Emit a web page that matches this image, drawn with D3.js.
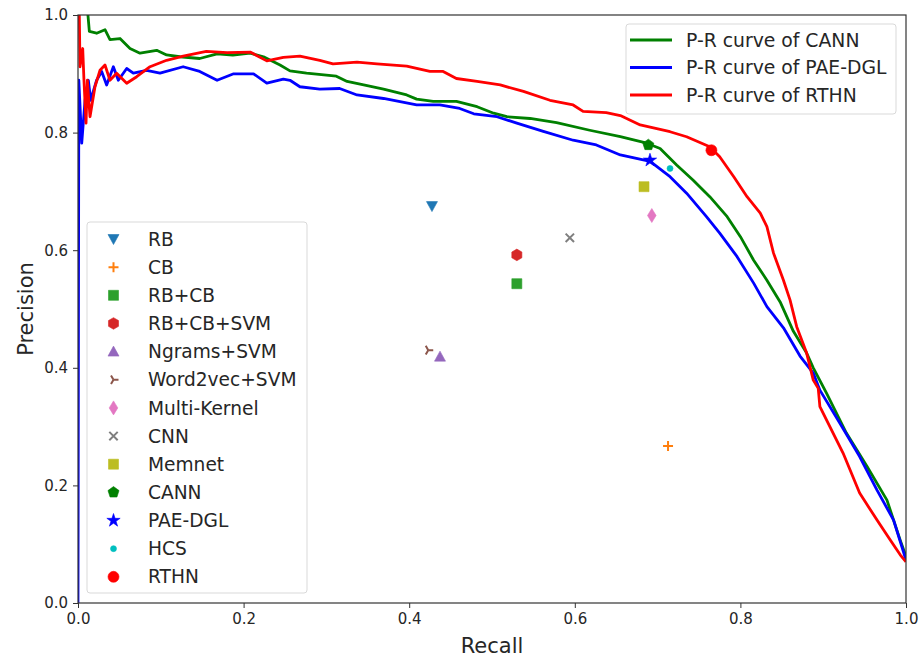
<!DOCTYPE html>
<html>
<head>
<meta charset="utf-8">
<script src="https://cdn.jsdelivr.net/npm/d3@7"></script>
<style>
  body { margin: 0; background: #fff; }
  text { font-family: "DejaVu Sans", sans-serif; fill: #262626; }
</style>
</head>
<body>
<div id="chart"></div>
<script>
// P-R curves, [recall, precision]
const cannCurve = [
  [0.012,1.0],[0.0137,0.972],[0.0225,0.969],[0.0326,0.975],[0.0386,0.958],[0.0507,0.96],
  [0.0628,0.943],[0.0749,0.935],[0.095,0.94],[0.107,0.932],[0.123,0.929],[0.147,0.926],
  [0.168,0.934],[0.187,0.932],[0.208,0.935],[0.224,0.929],[0.244,0.915],[0.256,0.905],
  [0.276,0.901],[0.312,0.896],[0.325,0.887],[0.345,0.881],[0.369,0.874],[0.397,0.864],
  [0.409,0.857],[0.429,0.853],[0.457,0.853],[0.482,0.844],[0.502,0.833],[0.518,0.827],
  [0.546,0.824],[0.578,0.817],[0.618,0.804],[0.655,0.793],[0.687,0.782],[0.703,0.773],
  [0.723,0.745],[0.743,0.719],[0.763,0.691],[0.784,0.657],[0.80,0.623],[0.816,0.583],
  [0.832,0.549],[0.848,0.512],[0.864,0.462],[0.880,0.425],[0.888,0.400],[0.904,0.357],
  [0.928,0.289],[0.953,0.232],[0.977,0.175],[0.993,0.107],[1.0,0.079]
];
const paeCurve = [
  [0,0],[0.001,0.889],[0.0045,0.782],[0.0085,0.855],[0.0125,0.889],[0.0153,0.855],
  [0.0225,0.889],[0.0286,0.904],[0.0346,0.881],[0.0427,0.912],[0.0487,0.889],[0.0588,0.909],
  [0.0668,0.901],[0.0829,0.906],[0.099,0.901],[0.127,0.912],[0.147,0.904],[0.168,0.889],
  [0.188,0.900],[0.212,0.900],[0.228,0.884],[0.248,0.891],[0.256,0.889],[0.268,0.878],
  [0.292,0.874],[0.316,0.875],[0.337,0.864],[0.369,0.858],[0.409,0.847],[0.437,0.847],
  [0.461,0.841],[0.478,0.832],[0.506,0.827],[0.530,0.816],[0.562,0.802],[0.598,0.787],
  [0.626,0.779],[0.655,0.762],[0.691,0.751],[0.715,0.725],[0.735,0.697],[0.759,0.657],
  [0.775,0.629],[0.796,0.589],[0.816,0.544],[0.832,0.504],[0.852,0.468],[0.872,0.42],
  [0.888,0.391],[0.896,0.362],[0.920,0.306],[0.944,0.249],[0.965,0.192],[0.985,0.141],
  [1.0,0.073]
];
const rthnCurve = [
  [0.0016,1.0],[0.0024,0.912],[0.0057,0.943],[0.0072,0.889],[0.0097,0.816],[0.0113,0.889],
  [0.0145,0.827],[0.0205,0.878],[0.0266,0.906],[0.0326,0.915],[0.0386,0.889],[0.0467,0.901],
  [0.0588,0.884],[0.0709,0.895],[0.087,0.912],[0.107,0.923],[0.127,0.930],[0.155,0.938],
  [0.18,0.936],[0.208,0.937],[0.228,0.922],[0.248,0.928],[0.268,0.930],[0.292,0.923],
  [0.308,0.917],[0.337,0.920],[0.361,0.917],[0.397,0.913],[0.425,0.904],[0.441,0.904],
  [0.457,0.892],[0.482,0.887],[0.510,0.881],[0.538,0.870],[0.570,0.855],[0.598,0.847],
  [0.610,0.836],[0.638,0.834],[0.655,0.829],[0.679,0.813],[0.715,0.8015],[0.735,0.793],
  [0.763,0.776],[0.775,0.759],[0.792,0.725],[0.808,0.691],[0.824,0.663],[0.832,0.640],
  [0.840,0.595],[0.852,0.549],[0.860,0.515],[0.868,0.470],[0.880,0.425],[0.888,0.379],
  [0.894,0.365],[0.896,0.334],[0.924,0.255],[0.944,0.187],[0.965,0.141],[0.981,0.107],
  [0.993,0.082],[1.0,0.070]
];

const curveNames = ["P-R curve of CANN", "P-R curve of PAE-DGL", "P-R curve of RTHN"];
const curveColors = ["#008000", "#0000ff", "#ff0000"];

// single-point methods
const methods = ["RB","CB","RB+CB","RB+CB+SVM","Ngrams+SVM","Word2vec+SVM","Multi-Kernel",
                 "CNN","Memnet","CANN","PAE-DGL","HCS","RTHN"];
const recallVals    = [0.4275,0.7126,0.530,0.530,0.4372,0.423,0.693,0.594,0.6836,0.6888,0.6908,0.715,0.765];
const precisionVals = [0.675,0.267,0.543,0.592,0.419,0.430,0.659,0.621,0.708,0.779,0.753,0.739,0.770];
const markerTypes = ["v","+","s","h","^","4","d","x","s","p","*",".","o"];
const markerColors = ["#1f77b4","#ff7f0e","#2ca02c","#d62728","#9467bd","#8c564b","#e377c2",
                      "#7f7f7f","#bcbd22","#008000","#0000ff","#00bfbf","#ff0000"];

const xTicks = [0.0,0.2,0.4,0.6,0.8,1.0];
const yTicks = [0.0,0.2,0.4,0.6,0.8,1.0];

const width = 919, height = 658;
const margin = {left: 78, right: 13, top: 15, bottom: 55};

const svg = d3.select("#chart").append("svg")
  .attr("width", width)
  .attr("height", height);

const x = d3.scaleLinear().domain([0, 1]).range([margin.left, width - margin.right]);
const y = d3.scaleLinear().domain([0, 1]).range([height - margin.bottom, margin.top]);

svg.append("clipPath").attr("id", "clip")
  .append("rect")
  .attr("x", x(0)).attr("y", y(1))
  .attr("width", x(1) - x(0)).attr("height", y(0) - y(1));

// marker shapes, centred on 0,0
function markerPath(t) {
  const p = d3.path();
  const poly = (n, r, rot) => {
    for (let i = 0; i < n; i++) {
      const a = rot + i * 2 * Math.PI / n;
      const px = r * Math.sin(a), py = -r * Math.cos(a);
      if (i === 0) p.moveTo(px, py); else p.lineTo(px, py);
    }
    p.closePath();
  };
  switch (t) {
    case "v": p.moveTo(-5.5,-4.5); p.lineTo(5.5,-4.5); p.lineTo(0,5.5); p.closePath(); break;
    case "^": p.moveTo(-5.5,4.5); p.lineTo(5.5,4.5); p.lineTo(0,-5.5); p.closePath(); break;
    case "s": p.rect(-5,-5,10,10); break;
    case "h": poly(6, 5.8, 0); break;
    case "p": poly(5, 5.8, 0); break;
    case "d": p.moveTo(0,-7); p.lineTo(4.3,0); p.lineTo(0,7); p.lineTo(-4.3,0); p.closePath(); break;
    case "o": p.arc(0,0,5.5,0,2*Math.PI); break;
    case ".": p.arc(0,0,3,0,2*Math.PI); break;
    case "*": return d3.symbol(d3.symbolStar, 55)();
    case "+": p.moveTo(-5,0); p.lineTo(5,0); p.moveTo(0,-5); p.lineTo(0,5); break;
    case "x": p.moveTo(-4.2,-4.2); p.lineTo(4.2,4.2); p.moveTo(-4.2,4.2); p.lineTo(4.2,-4.2); break;
    case "4": p.moveTo(0,0); p.lineTo(5,0); p.moveTo(0,0); p.lineTo(-2.5,-4.3); p.moveTo(0,0); p.lineTo(-2.5,4.3); break;
  }
  return p.toString();
}
const strokeOnly = t => t === "+" || t === "x" || t === "4";

function drawMarker(sel, t, color) {
  sel.append("path")
    .attr("d", markerPath(t))
    .attr("fill", strokeOnly(t) ? "none" : color)
    .attr("stroke", color)
    .attr("stroke-width", strokeOnly(t) ? 2 : 0.6);
}

// curves
const line = d3.line().x(d => x(d[0])).y(d => y(d[1]));
const plot = svg.append("g").attr("clip-path", "url(#clip)");
[cannCurve, paeCurve, rthnCurve].forEach((c, i) => {
  plot.append("path")
    .datum(c)
    .attr("d", line)
    .attr("fill", "none")
    .attr("stroke", curveColors[i])
    .attr("stroke-width", 2.8)
    .attr("stroke-linejoin", "round");
});

// points
methods.forEach((m, i) => {
  const g = svg.append("g")
    .attr("transform", `translate(${x(recallVals[i])},${y(precisionVals[i])})`);
  drawMarker(g, markerTypes[i], markerColors[i]);
});

// axes
const xAxis = svg.append("g")
  .attr("transform", `translate(0,${y(0)})`)
  .call(d3.axisBottom(x).tickValues(xTicks).tickFormat(d3.format(".1f")).tickSizeOuter(0).tickSize(5).tickPadding(5));
const yAxis = svg.append("g")
  .attr("transform", `translate(${x(0)},0)`)
  .call(d3.axisLeft(y).tickValues(yTicks).tickFormat(d3.format(".1f")).tickSizeOuter(0).tickSize(5).tickPadding(5));
[xAxis, yAxis].forEach(a => {
  a.selectAll("text").style("font-size", "15px").attr("fill", "#262626");
  a.selectAll("line").attr("stroke", "#333");
  a.select(".domain").remove();
});

// frame
svg.append("rect")
  .attr("x", x(0)).attr("y", y(1))
  .attr("width", x(1) - x(0)).attr("height", y(0) - y(1))
  .attr("fill", "none").attr("stroke", "#333").attr("stroke-width", 1.2);

svg.append("text")
  .attr("x", (x(0) + x(1)) / 2).attr("y", 653)
  .attr("text-anchor", "middle")
  .style("font-size", "21px")
  .text("Recall");
svg.append("text")
  .attr("transform", `translate(33,${(y(0) + y(1)) / 2}) rotate(-90)`)
  .attr("text-anchor", "middle")
  .style("font-size", "21px")
  .text("Precision");

// legend of curves
const leg1 = svg.append("g").attr("transform", "translate(626,24)");
leg1.append("rect")
  .attr("width", 270).attr("height", 90).attr("rx", 3)
  .attr("fill", "#fff").attr("fill-opacity", 0.8)
  .attr("stroke", "#d9d9d9");
curveNames.forEach((n, i) => {
  const yy = 16 + i * 27.5;
  leg1.append("line")
    .attr("x1", 4).attr("x2", 46).attr("y1", yy).attr("y2", yy)
    .attr("stroke", curveColors[i]).attr("stroke-width", 2.8);
  leg1.append("text")
    .attr("x", 60).attr("y", yy).attr("dy", "0.36em")
    .style("font-size", "18.8px")
    .text(n);
});

// legend of methods
const leg2 = svg.append("g").attr("transform", "translate(87,222)");
leg2.append("rect")
  .attr("width", 220).attr("height", 371).attr("rx", 3)
  .attr("fill", "#fff").attr("fill-opacity", 0.8)
  .attr("stroke", "#d9d9d9");
methods.forEach((m, i) => {
  const yy = 17 + i * 28.15;
  const g = leg2.append("g").attr("transform", `translate(26.5,${yy})`);
  drawMarker(g, markerTypes[i], markerColors[i]);
  leg2.append("text")
    .attr("x", 61).attr("y", yy).attr("dy", "0.36em")
    .style("font-size", "18.6px")
    .text(m);
});
</script>
</body>
</html>
